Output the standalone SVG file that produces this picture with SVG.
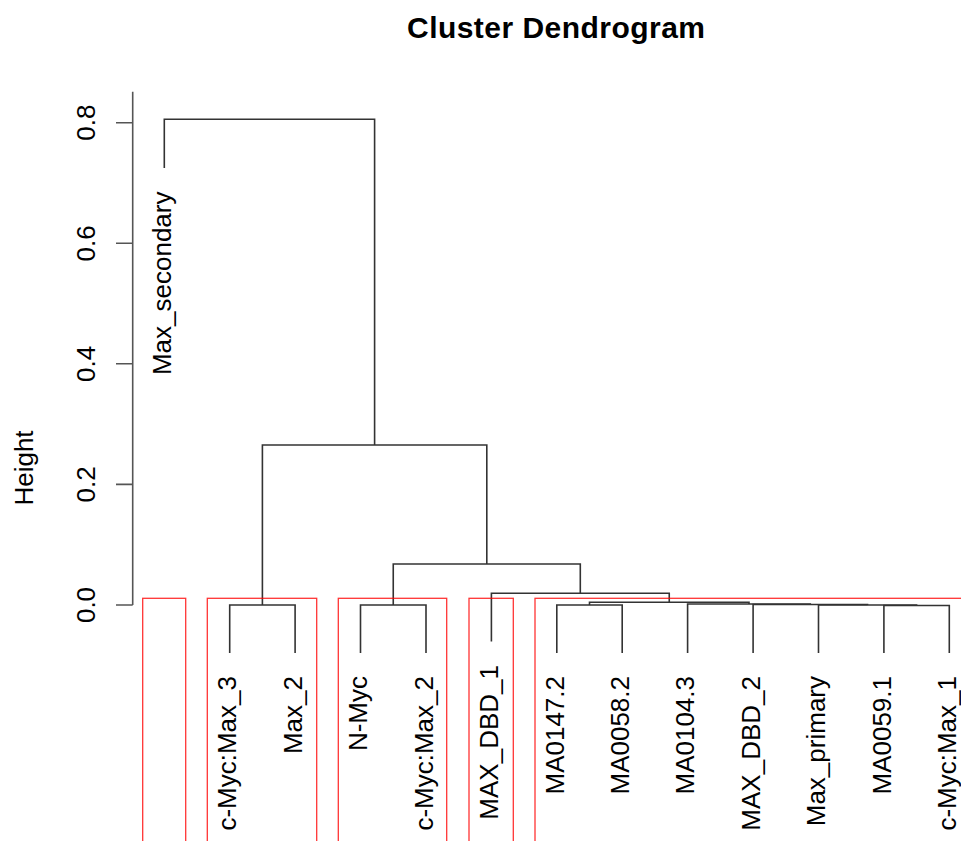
<svg xmlns="http://www.w3.org/2000/svg" width="961" height="841" viewBox="0 0 961 841">
  <style>
    .t { font-family: "Liberation Sans", Arial, Helvetica, sans-serif; font-size: 26px; fill: #000; }
    .title { font-family: "Liberation Sans", Arial, Helvetica, sans-serif; font-size: 30px; font-weight: bold; fill: #000; }
    .edge { fill: none; stroke: #333; stroke-width: 1.6; }
    .axis { fill: none; stroke: #555; stroke-width: 1.6; }
    .box { fill: none; stroke: #ff0000; stroke-width: 1.3; stroke-opacity: 0.8; }
  </style>
  <rect x="0" y="0" width="961" height="841" fill="#fff"/>

  <text class="title" x="556" y="37.5" text-anchor="middle" textLength="298">Cluster Dendrogram</text>

  <g id="axis">
    <path class="axis" d="M132.7 91.7 V605 M116 605 H132.7 M116 484.4 H132.7 M116 363.8 H132.7 M116 243.3 H132.7 M116 122.7 H132.7"/>
    <text class="t" text-anchor="middle" transform="translate(95,605) rotate(-90)">0.0</text>
    <text class="t" text-anchor="middle" transform="translate(95,484.4) rotate(-90)">0.2</text>
    <text class="t" text-anchor="middle" transform="translate(95,363.8) rotate(-90)">0.4</text>
    <text class="t" text-anchor="middle" transform="translate(95,243.3) rotate(-90)">0.6</text>
    <text class="t" text-anchor="middle" transform="translate(95,122.7) rotate(-90)">0.8</text>
    <text class="t" text-anchor="middle" transform="translate(32.5,468) rotate(-90)">Height</text>
  </g>

  <g id="connectors">
    <path class="edge" d="M164.3 168 V119.3 H374.6 V445"/>
    <path class="edge" d="M262.4 605 V445 H486.8 V564"/>
    <path class="edge" d="M393.25 605 V564 H580.3 V593.3"/>
    <path class="edge" d="M491.4 641.5 V593.3 H669.25 V602.3"/>
    <path class="edge" d="M589.5 605 V602.3 H749 V604"/>
    <path class="edge" d="M687.6 653 V604 H810.3 V604.5"/>
    <path class="edge" d="M753.1 653 V604.5 H867.55 V605"/>
    <path class="edge" d="M818.5 653 V605 H916.6 V605.5"/>
    <path class="edge" d="M883.9 653 V605.5 H949.3 V653"/>
    <path class="edge" d="M556.8 653 V605 H622.2 V653"/>
    <path class="edge" d="M229.7 653 V605 H295.1 V653"/>
    <path class="edge" d="M360.5 653 V605 H426 V653"/>
  </g>

  <g id="leaf-Max_secondary"><text class="t" text-anchor="end" transform="translate(171,191.5) rotate(-90)">Max_secondary</text></g>
  <g id="leaf-c-Myc_Max_3"><text class="t" text-anchor="end" transform="translate(236.4,676) rotate(-90)">c-Myc:Max_3</text></g>
  <g id="leaf-Max_2"><text class="t" text-anchor="end" transform="translate(301.8,676) rotate(-90)">Max_2</text></g>
  <g id="leaf-N-Myc"><text class="t" text-anchor="end" transform="translate(367.2,676) rotate(-90)">N-Myc</text></g>
  <g id="leaf-c-Myc_Max_2"><text class="t" text-anchor="end" transform="translate(432.7,676) rotate(-90)">c-Myc:Max_2</text></g>
  <g id="leaf-MAX_DBD_1"><text class="t" text-anchor="end" transform="translate(498.1,665) rotate(-90)">MAX_DBD_1</text></g>
  <g id="leaf-MA0147.2"><text class="t" text-anchor="end" transform="translate(563.5,676) rotate(-90)">MA0147.2</text></g>
  <g id="leaf-MA0058.2"><text class="t" text-anchor="end" transform="translate(628.9,676) rotate(-90)">MA0058.2</text></g>
  <g id="leaf-MA0104.3"><text class="t" text-anchor="end" transform="translate(694.3,676) rotate(-90)">MA0104.3</text></g>
  <g id="leaf-MAX_DBD_2"><text class="t" text-anchor="end" transform="translate(759.8,676) rotate(-90)">MAX_DBD_2</text></g>
  <g id="leaf-Max_primary"><text class="t" text-anchor="end" transform="translate(825.2,676) rotate(-90)">Max_primary</text></g>
  <g id="leaf-MA0059.1"><text class="t" text-anchor="end" transform="translate(890.6,676) rotate(-90)">MA0059.1</text></g>
  <g id="leaf-c-Myc_Max_1"><text class="t" text-anchor="end" transform="translate(956,676) rotate(-90)">c-Myc:Max_1</text></g>

  <g id="cluster-boxes">
    <rect class="box" x="142.7" y="598.3" width="43" height="260"/>
    <rect class="box" x="207.3" y="598.3" width="109.4" height="260"/>
    <rect class="box" x="338.3" y="598.3" width="108.4" height="260"/>
    <rect class="box" x="469" y="598.3" width="44.3" height="260"/>
    <rect class="box" x="535" y="598.3" width="440" height="260"/>
  </g>
</svg>
